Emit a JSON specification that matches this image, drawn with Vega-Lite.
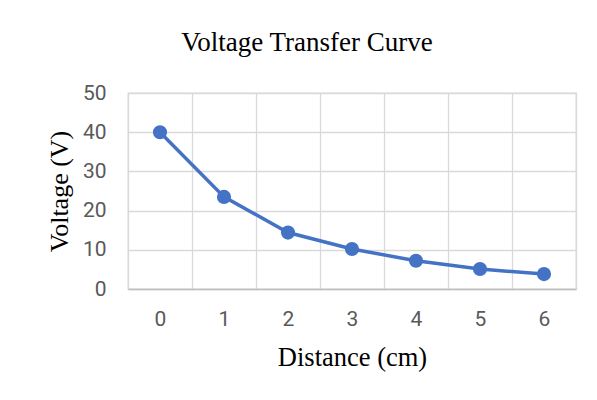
{
  "$schema": "https://vega.github.io/schema/vega-lite/v6.json",
  "autosize": {"type": "none"},
  "width": 448,
  "height": 196,
  "padding": {"left": 128, "top": 93, "right": 21, "bottom": 111},
  "background": "white",
  "title": {
    "text": "Voltage Transfer Curve",
    "font": "Liberation Serif",
    "fontSize": 27,
    "fontWeight": "normal",
    "color": "#000000",
    "anchor": "middle",
    "frame": "group",
    "dx": -45,
    "baseline": "alphabetic",
    "offset": 4
  },
  "data": {
    "values": [
      {"distance": "0", "voltage": 40.0},
      {"distance": "1", "voltage": 23.5},
      {"distance": "2", "voltage": 14.4},
      {"distance": "3", "voltage": 10.2},
      {"distance": "4", "voltage": 7.2},
      {"distance": "5", "voltage": 5.1},
      {"distance": "6", "voltage": 3.8}
    ]
  },
  "encoding": {
    "x": {
      "field": "distance",
      "type": "ordinal",
      "sort": null,
      "scale": {"type": "band", "paddingInner": 0, "paddingOuter": 0},
      "axis": {
        "title": "Distance (cm)",
        "labelAngle": 0,
        "tickBand": "extent",
        "ticks": false,
        "tickSize": 0,
        "grid": true,
        "gridColor": "#d9d9d9",
        "gridWidth": 1.3,
        "domainColor": "#bfbfbf",
        "domainWidth": 1.5,
        "labelFont": "Roboto",
        "labelFontSize": 21,
        "labelColor": "#595959",
        "labelPadding": 19,
        "titleFont": "Liberation Serif",
        "titleFontSize": 26.5,
        "titleFontWeight": "normal",
        "titleColor": "#000000",
        "titlePadding": 15
      }
    },
    "y": {
      "field": "voltage",
      "type": "quantitative",
      "scale": {"domain": [0, 50]},
      "axis": {
        "title": "Voltage (V)",
        "values": [0, 10, 20, 30, 40, 50],
        "ticks": false,
        "tickSize": 0,
        "domain": false,
        "grid": true,
        "gridColor": "#d9d9d9",
        "gridWidth": 1.3,
        "labelFont": "Roboto",
        "labelFontSize": 21,
        "labelColor": "#595959",
        "labelPadding": 22,
        "titleFont": "Liberation Serif",
        "titleFontSize": 26,
        "titleFontWeight": "normal",
        "titleColor": "#000000",
        "titlePadding": 10
      }
    }
  },
  "layer": [
    {"mark": {"type": "line", "color": "#4472C4", "strokeWidth": 3.5}},
    {"mark": {"type": "point", "filled": true, "shape": "circle", "size": 200, "color": "#4472C4", "opacity": 1}}
  ],
  "config": {
    "view": {"stroke": "#d9d9d9", "strokeWidth": 1.3}
  }
}
